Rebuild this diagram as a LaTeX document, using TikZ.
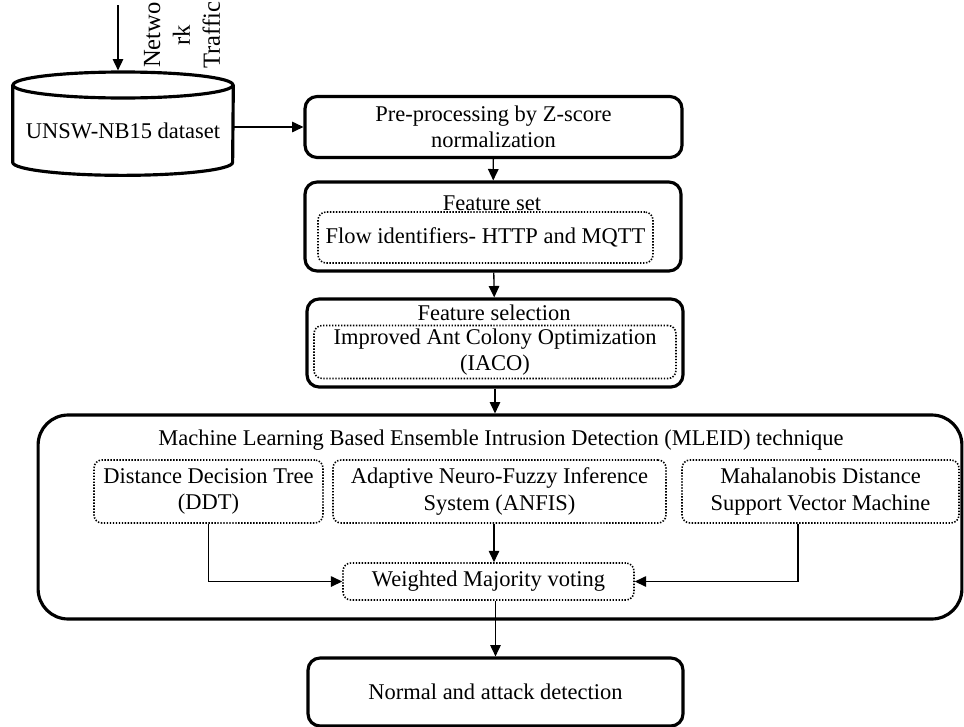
\documentclass[tikz,border=0pt]{standalone}
\usepackage{fontspec}
\setmainfont{Liberation Serif}
\usetikzlibrary{arrows.meta,shapes.geometric}

\begin{document}
\begin{tikzpicture}[x=0.02cm,y=-0.02cm,
    every node/.style={font=\fontsize{12.8}{15}\selectfont,align=center,inner sep=0pt},
    outer/.style={draw,line width=1.8pt,rounded corners=0.24cm},
    inner/.style={draw,line width=0.9pt,dash pattern=on 0.8pt off 0.9pt,rounded corners=0.16cm},
    arr/.style={line width=0.75pt,-{Triangle[length=6.5pt,width=6pt]}}]
  \useasboundingbox (0,0) rectangle (964,727);

  % dataset drum
  \coordinate (src) at (118,5);
  \node[ellipse,draw,line width=1.8pt,minimum width=4.4cm,minimum height=0.52cm] (dbtop) at (123,85) {};
  \node[minimum width=4.4cm,minimum height=1.54cm] (db) at (123,123.5) {};
  \draw[line width=1.8pt] (db.north west) -- (db.south west)
    arc[start angle=180,end angle=360,x radius=2.2cm,y radius=0.26cm] -- (db.north east);
  \node (dblabel) at (123,131) {UNSW-NB15 dataset};
  \node[rotate=90,font=\fontsize{14}{17}\selectfont] (traffic) at (182,35) {Netwo\\rk\\Traffic};

  % pipeline
  \node[outer,minimum width=7.54cm,minimum height=1.22cm] (pre) at (493.5,127) {Pre-processing by Z-score\\normalization};
  \node[outer,minimum width=7.52cm,minimum height=1.78cm] (fset) at (493,226.5) {};
  \node[inner,minimum width=6.7cm,minimum height=1.02cm] (fsetin) at (485.5,237.5) {Flow identifiers- HTTP and MQTT};
  \node (fsettitle) at (492,203) {Feature set};
  \node[outer,minimum width=7.52cm,minimum height=1.76cm] (fsel) at (495,343) {};
  \node[inner,minimum width=7.24cm,minimum height=1.06cm] (fselin) at (495,352) {Improved Ant Colony Optimization\\(IACO)};
  \node (fseltitle) at (494,313) {Feature selection};

  % ensemble
  \node[outer,rounded corners=0.6cm,minimum width=18.48cm,minimum height=4.08cm] (mleid) at (500,517) {};
  \node (mleidtitle) at (501,440) {Machine Learning Based Ensemble Intrusion Detection (MLEID) technique};
  \node[inner,minimum width=4.58cm,minimum height=1.26cm] (ddt) at (208.5,491.5) {Distance Decision Tree\\(DDT)};
  \node[inner,minimum width=6.66cm,minimum height=1.26cm] (anfis) at (499.5,491.5) {Adaptive Neuro-Fuzzy Inference\\System (ANFIS)};
  \node[inner,minimum width=5.54cm,minimum height=1.26cm] (mdsvm) at (820.5,491.5) {Mahalanobis Distance\\Support Vector Machine};
  \node[inner,minimum width=5.82cm,minimum height=0.74cm] (vote) at (488.5,581.5) {Weighted Majority voting};
  \node[outer,minimum width=7.5cm,minimum height=1.36cm] (out) at (495.5,692) {Normal and attack detection};

  \draw[arr] (src) -- (src |- dbtop.north);
  \draw[arr] (db.east |- pre) -- (pre.west);
  \draw[arr] (pre) -- (fset);
  \draw[arr] (fset) -- (fsel);
  \draw[arr] (fsel.south) -- (fsel.south |- mleid.north);
  \draw[arr] (ddt.south) |- (vote.west);
  \draw[arr] ([xshift=-0.11cm]anfis.south) -- ([xshift=-0.11cm]anfis.south |- vote.north);
  \draw[arr] ([xshift=-0.45cm]mdsvm.south) |- (vote.east);
  \draw[arr] (vote.south -| out.north) -- (out.north);
\end{tikzpicture}
\end{document}
